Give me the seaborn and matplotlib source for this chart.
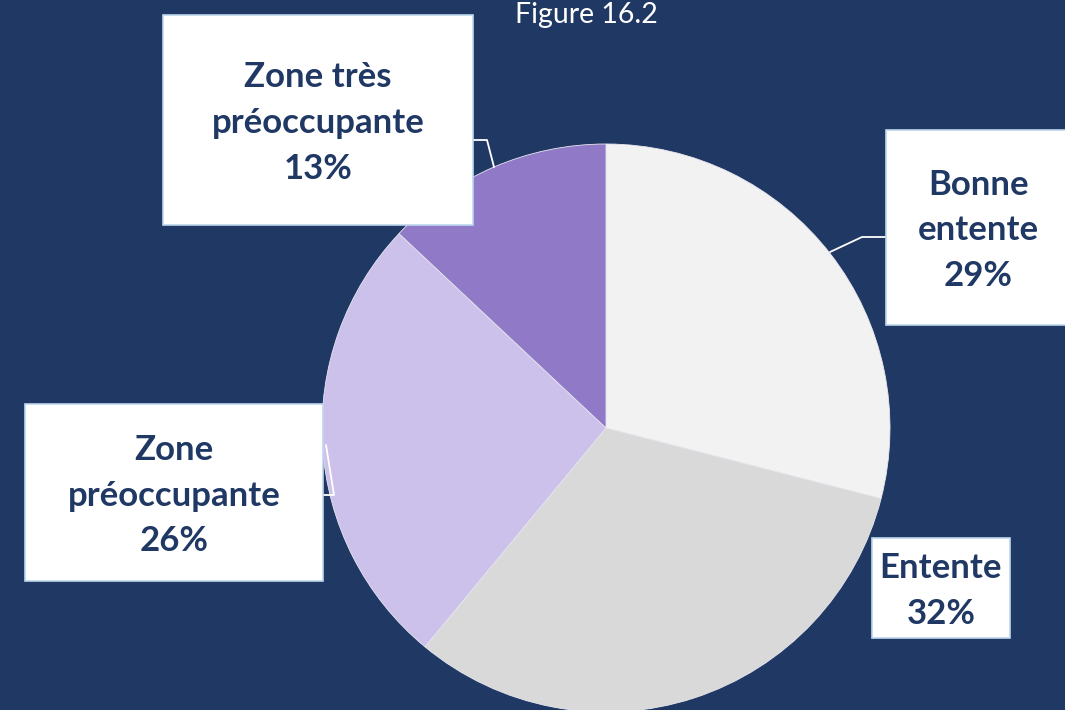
import matplotlib.pyplot as plt
import seaborn as sns
from matplotlib.patches import Rectangle

# Données du graphique
categories = ["Bonne entente", "Entente", "Zone préoccupante", "Zone très préoccupante"]
display_names = ["Bonne\nentente", "Entente", "Zone\npréoccupante", "Zone très\npréoccupante"]
values = [29, 32, 26, 13]
colors = ["#F2F2F2", "#D9D9D9", "#CCC1EA", "#9079C6"]

bg = "#203864"
navy = "#203864"

sns.set_style("white")
plt.rcParams["font.family"] = ["Lato", "DejaVu Sans"]

fig = plt.figure(figsize=(10.65, 7.1), dpi=100, facecolor=bg)
ax = fig.add_axes([0, 0, 1, 1])
ax.set_facecolor(bg)

# Camembert (sens horaire depuis le haut)
ax.pie(values, colors=colors, startangle=-90, counterclock=True,
       center=(606, 428), radius=284, frame=True,
       wedgeprops=dict(edgecolor="#E8E8F0", linewidth=0.6))
ax.set_xlim(0, 1065)
ax.set_ylim(710, 0)
ax.set_aspect("equal")
ax.axis("off")

# Étiquettes : boîte (x, y, largeur, hauteur) et lignes de rappel
boxes = [(886, 130, 185, 195), (872, 538, 138, 100), (25, 404, 298, 177), (163, 15, 310, 210)]
leaders = [
    [(886, 237), (862, 237), (830, 252)],
    None,
    [(323, 495), (334, 495), (326, 445)],
    [(473, 140), (487, 140), (494, 167)],
]

for name, val, (bx, by, bw, bh), lead in zip(display_names, values, boxes, leaders):
    if lead is not None:
        xs, ys = zip(*lead)
        ax.plot(xs, ys, color="white", lw=1.3, zorder=3)
    ax.add_patch(Rectangle((bx, by), bw, bh, facecolor="white",
                           edgecolor="#BDD7EE", lw=1.2, zorder=4))
    ax.text(bx + bw / 2, by + bh / 2 + 3, f"{name}\n{val}%", ha="center", va="center",
            fontsize=25, fontweight="bold", color=navy, linespacing=1.52, zorder=5)

ax.text(586, 23, "Figure 16.2", ha="center", va="baseline", fontsize=20.5, color="white")

fig.savefig("out.png", dpi=100, facecolor=bg)
